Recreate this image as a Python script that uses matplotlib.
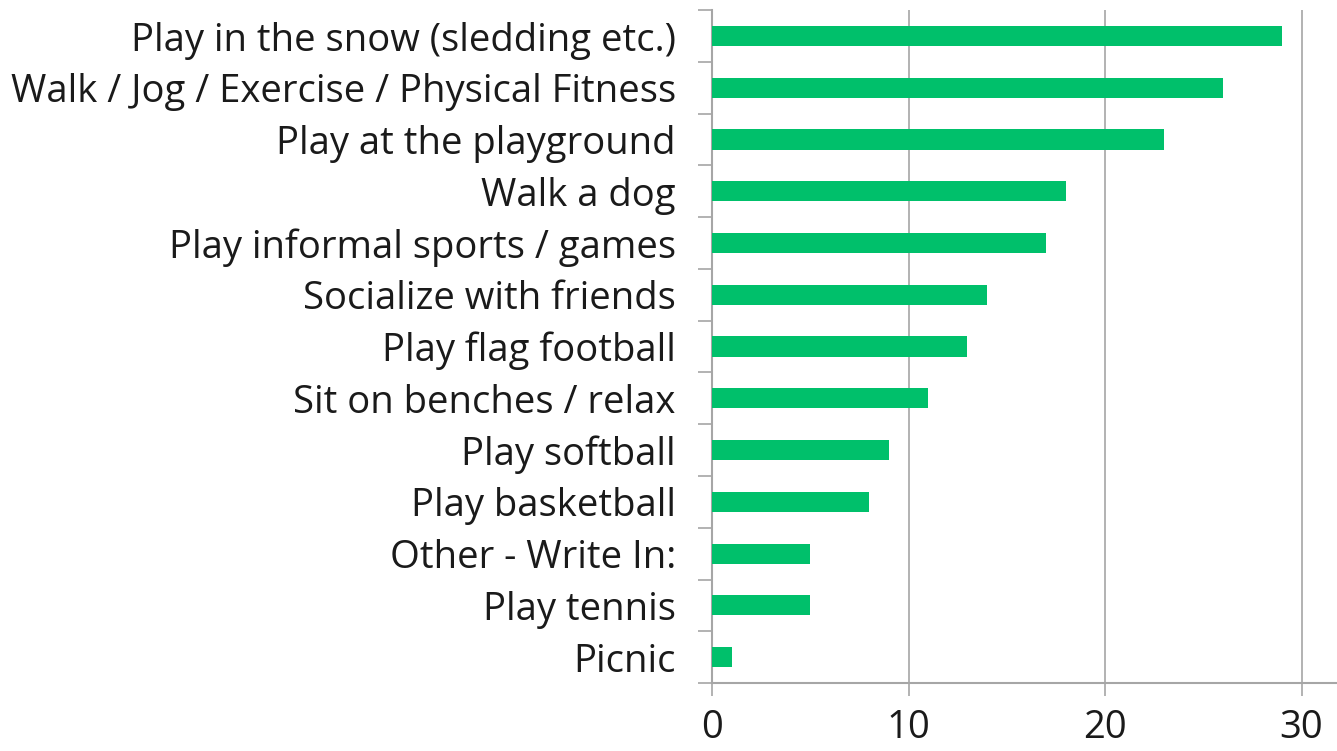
import matplotlib
matplotlib.use("Agg")
import matplotlib.pyplot as plt
import numpy as np

# categories listed top to bottom
activities = [
    "Play in the snow (sledding etc.)",
    "Walk / Jog / Exercise / Physical Fitness",
    "Play at the playground",
    "Walk a dog",
    "Play informal sports / games",
    "Socialize with friends",
    "Play flag football",
    "Sit on benches / relax",
    "Play softball",
    "Play basketball",
    "Other - Write In:",
    "Play tennis",
    "Picnic",
]
counts = [29, 26, 23, 18, 17, 14, 13, 11, 9, 8, 5, 5, 1]
x_ticks = [0, 10, 20, 30]

BAR_COLOR = "#00c06b"
GRID_COLOR = "#a6a6a6"

plt.rcParams["font.family"] = ["Open Sans", "DejaVu Sans"]

fig = plt.figure(figsize=(13.37, 7.51), dpi=100)
ax = fig.add_axes([0.5325, 0.0905, 0.4675, 0.896])

y = np.arange(len(activities))
ax.barh(y, counts, height=0.39, color=BAR_COLOR, zorder=3)

ax.set_ylim(len(activities) - 0.5, -0.5)
ax.set_xlim(0, 31.8)

# category labels at centres, tick marks at the boundaries
ax.set_yticks(y)
ax.set_yticklabels(activities, fontsize=27.5, color="#1a1a1a")
ax.set_yticks(np.arange(-0.5, len(activities), 1), minor=True)
ax.tick_params(axis="y", which="major", length=0, pad=26)
ax.tick_params(axis="y", which="minor", length=10, color=GRID_COLOR, width=1.2)

ax.set_xticks(x_ticks)
ax.set_xticklabels([str(t) for t in x_ticks], fontsize=27.5, color="#1a1a1a")
ax.tick_params(axis="x", length=9.5, color=GRID_COLOR, width=1.2, pad=9)

ax.grid(axis="x", color=GRID_COLOR, linewidth=1.2, zorder=0)

for side in ["top", "right"]:
    ax.spines[side].set_visible(False)
for side in ["left", "bottom"]:
    ax.spines[side].set_color(GRID_COLOR)
    ax.spines[side].set_linewidth(1.5)

fig.savefig("out.png", dpi=100)
